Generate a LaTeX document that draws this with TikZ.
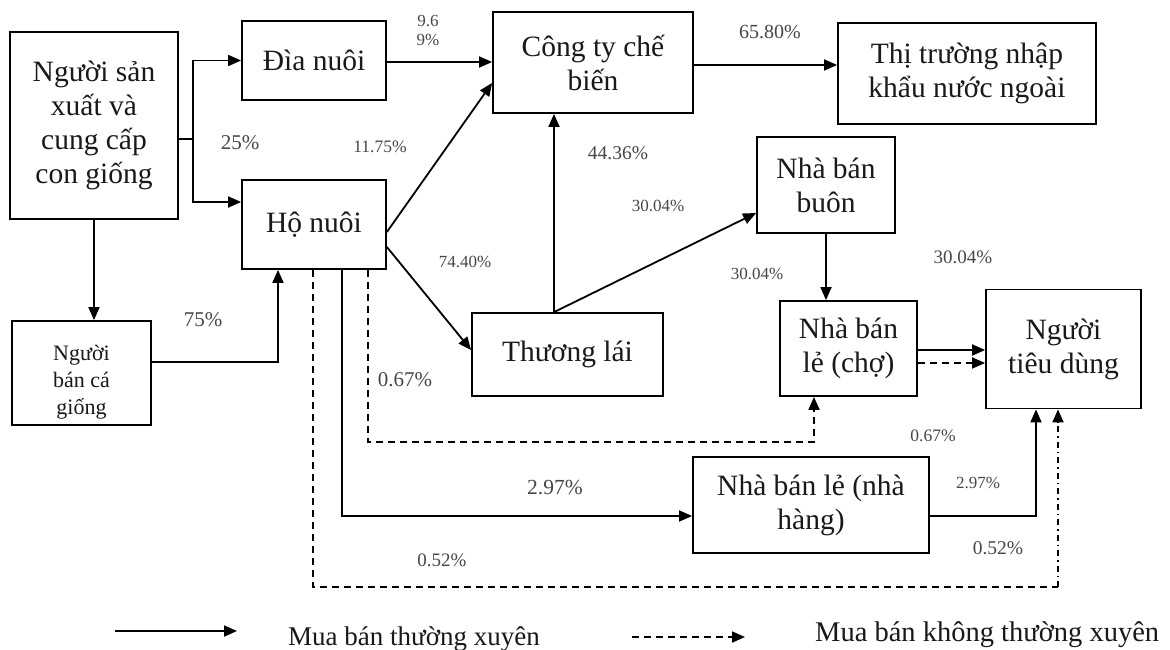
\documentclass[tikz,border=0pt]{standalone}
\usepackage{fontspec}
\setmainfont{Liberation Serif}
\usetikzlibrary{arrows.meta}
\begin{document}
\begin{tikzpicture}[x=1pt,y=-1pt,
  box/.style={draw, line width=1.8pt, inner sep=0pt, align=center, font=\fontsize{29.5}{34}\selectfont, text=black!90},
  conn/.style={line width=1.8pt},
  arr/.style={conn, -{Triangle[length=13pt,width=11pt]}},
  dsh/.style={conn, dash pattern=on 7pt off 5pt},
  dsharr/.style={dsh, -{Triangle[length=13pt,width=11pt]}},
  dotarr/.style={conn, dash pattern=on 6pt off 4pt on 1.5pt off 4pt, -{Triangle[length=13pt,width=11pt]}},
  lbl/.style={text=black!72, inner sep=0pt, align=center},
]
\useasboundingbox (0,0) rectangle (1170,650);
\fill[white] (0,0) rectangle (1170,650);

% boxes
\node[box, minimum width=168pt, minimum height=187pt] (A) at (94,125.5) {Người sản\\xuất và\\cung cấp\\con giống};
\node[box, minimum width=144pt, minimum height=79pt] (B) at (314,60.5) {Đìa nuôi};
\node[box, minimum width=144pt, minimum height=89pt] (C) at (314,224.5) {Hộ nuôi};
\node[box, minimum width=139pt, minimum height=104pt] (D) at (81.5,373) {};
\node[align=center, font=\fontsize{22}{27}\selectfont, text=black!90] (Dt) at (81.5,382) {Người\\bán cá\\giống};
\node[box, minimum width=200pt, minimum height=101pt] (E) at (593,62.5) {Công ty chế\\biến};
\node[box, minimum width=258pt, minimum height=101pt] (F) at (967,73.5) {Thị trường nhập\\khẩu nước ngoài};
\node[box, minimum width=138pt, minimum height=96pt] (G) at (826,185) {Nhà bán\\buôn};
\node[box, minimum width=191pt, minimum height=83pt] (H) at (567.5,354.5) {Thương lái};
\node[box, minimum width=137pt, minimum height=95pt] (I) at (848.5,348.5) {Nhà bán\\lẻ (chợ)};
\node[box, minimum width=155pt, minimum height=119pt] (J) at (1063.5,349) {Người\\tiêu dùng};
\node[box, minimum width=236pt, minimum height=96pt] (K) at (811,505) {Nhà bán lẻ (nhà\\hàng)};

% connectors
\coordinate (fork) at (193,139);
\draw[conn] ([yshift=-13.5pt]A.east) -- (fork);
\draw[arr] (fork) |- (B.west);
\draw[arr] (fork) |- ([yshift=22.5pt]C.west);
\draw[arr] (A.south) -- (A.south |- D.north);
\draw[arr] ([yshift=11pt]D.east) -| ([xshift=-36pt]C.south);
\draw[arr] ([yshift=-1.5pt]B.east) -- ([yshift=-1.5pt]B.east -| E.west);
\draw[arr] ([yshift=-7.5pt]C.east) -- ([yshift=-20.5pt]E.west);
\draw[arr] ([yshift=-22.5pt]C.east) -- ([yshift=4.5pt]H.west);
\coordinate (htop) at ([xshift=-13.5pt]H.north);
\draw[arr] (htop) -- (htop |- E.south);
\draw[arr] (htop) -- ([yshift=-28pt]G.west);
\coordinate (eout) at ([yshift=-2.5pt]E.east);
\draw[arr] (eout) -- (eout -| F.west);
\draw[arr] (G.south) -- (G.south |- I.north);
\coordinate (iout1) at ([yshift=-1.5pt]I.east);
\coordinate (iout2) at ([yshift=-14.5pt]I.east);
\draw[arr] (iout1) -- (iout1 -| J.west);
\draw[dsharr] (iout2) -- (iout2 -| J.west);
\draw[arr] ([xshift=28pt]C.south) |- ([yshift=-11pt]K.west);
\draw[arr] ([yshift=-11pt]K.east) -| ([xshift=-27.5pt]J.south);
\draw[dsharr] ([xshift=54pt]C.south) -- ++(0,172) -| ([xshift=-34.5pt]I.south);
\coordinate (bc) at (1058,587);
\draw[dsh] ([xshift=-1pt]C.south) |- (bc);
\draw[dotarr] (bc) -- (bc |- J.south);

% labels
\node[lbl, font=\fontsize{17}{19}\selectfont] (l1) at (428,30) {9.6\\9\%};
\node[lbl, font=\fontsize{21}{24}\selectfont] (l2) at (240,143) {25\%};
\node[lbl, font=\fontsize{17.5}{20}\selectfont] (l3) at (380,147) {11.75\%};
\node[lbl, font=\fontsize{21}{24}\selectfont] (l4) at (203,320) {75\%};
\node[lbl, font=\fontsize{20}{23}\selectfont] (l5) at (770,32) {65.80\%};
\node[lbl, font=\fontsize{19.5}{22}\selectfont] (l6) at (618,153) {44.36\%};
\node[lbl, font=\fontsize{17}{19}\selectfont] (l7) at (658,206) {30.04\%};
\node[lbl, font=\fontsize{17}{19}\selectfont] (l8) at (465,262) {74.40\%};
\node[lbl, font=\fontsize{17}{19}\selectfont] (l9) at (757,274) {30.04\%};
\node[lbl, font=\fontsize{19}{22}\selectfont] (l10) at (963,257) {30.04\%};
\node[lbl, font=\fontsize{21}{24}\selectfont] (l11) at (405,380) {0.67\%};
\node[lbl, font=\fontsize{21.5}{24}\selectfont] (l12) at (555,487) {2.97\%};
\node[lbl, font=\fontsize{19}{22}\selectfont] (l13) at (442,560) {0.52\%};
\node[lbl, font=\fontsize{17.5}{20}\selectfont] (l14) at (933,436) {0.67\%};
\node[lbl, font=\fontsize{17}{19}\selectfont] (l15) at (978,483) {2.97\%};
\node[lbl, font=\fontsize{19.5}{22}\selectfont] (l16) at (998,548) {0.52\%};

% legend
\coordinate (lg1a) at (115,631);
\coordinate (lg1b) at (237,631);
\draw[arr] (lg1a) -- (lg1b);
\node[anchor=base west, inner sep=0pt, font=\fontsize{27}{30}\selectfont, text=black!90] (lt1) at (288,645) {Mua bán thường xuyên};
\coordinate (lg2a) at (632,637);
\coordinate (lg2b) at (745,637);
\draw[dsharr] (lg2a) -- (lg2b);
\node[anchor=base west, inner sep=0pt, font=\fontsize{28.5}{32}\selectfont, text=black!90] (lt2) at (815,641) {Mua bán không thường xuyên};
\end{tikzpicture}
\end{document}
